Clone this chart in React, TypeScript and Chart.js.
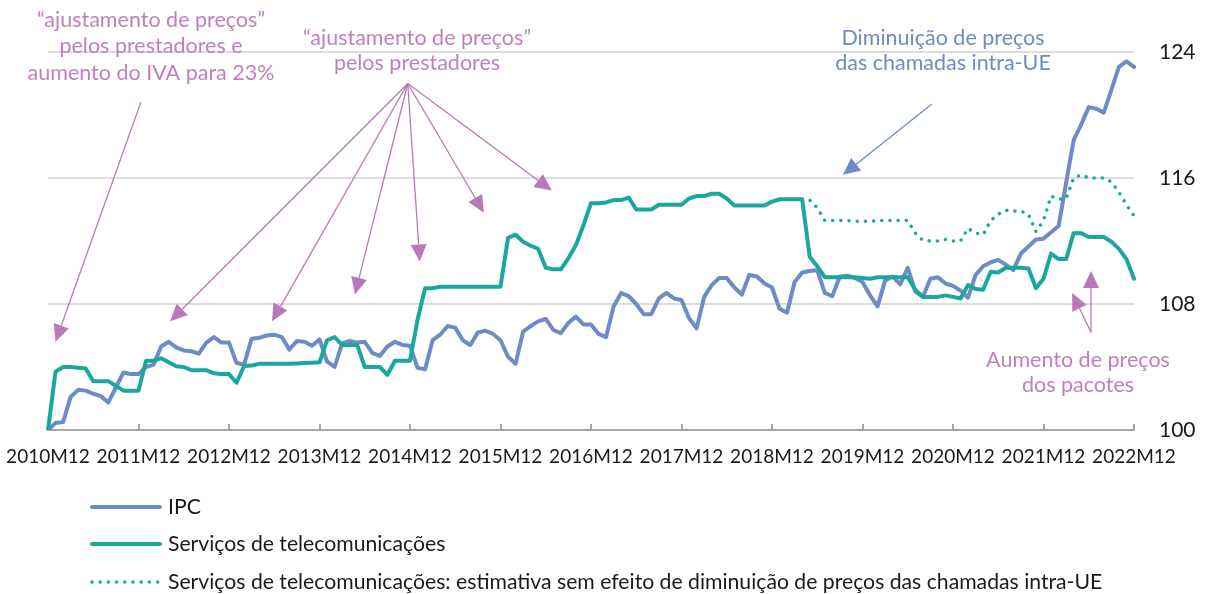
import React, { useEffect, useRef } from 'react';
import { Chart, registerables } from 'chart.js';

Chart.register(...registerables);

// Year tick labels (every 12 months)
const yearLabels = ['2010M12', '2011M12', '2012M12', '2013M12', '2014M12', '2015M12', '2016M12', '2017M12', '2018M12', '2019M12', '2020M12', '2021M12', '2022M12'];
const monthCodes = ['M01', 'M02', 'M03', 'M04', 'M05', 'M06', 'M07', 'M08', 'M09', 'M10', 'M11', 'M12'];

// IPC index (2010M12 = 100), monthly 2010M12..2022M12
const ipc = [
  100.0, 100.45, 100.5, 102.1, 102.55, 102.5, 102.3, 102.15, 101.75, 102.7, 103.65, 103.55,
  103.55, 104.0, 104.15, 105.3, 105.6, 105.25, 105.05, 105.0, 104.85, 105.55, 105.9, 105.55,
  105.55, 104.25, 104.15, 105.8, 105.85, 106.0, 106.05, 105.9, 105.1, 105.65, 105.6, 105.35,
  105.75, 104.35, 104.0, 105.5, 105.65, 105.55, 105.6, 104.9, 104.7, 105.3, 105.6, 105.4,
  105.35, 103.95, 103.85, 105.7, 106.05, 106.6, 106.5, 105.7, 105.4, 106.2, 106.3, 106.1,
  105.7, 104.65, 104.2, 106.25, 106.6, 106.9, 107.05, 106.35, 106.15, 106.8, 107.2, 106.7,
  106.7, 106.1, 105.9, 107.85, 108.7, 108.5, 108.0, 107.35, 107.35, 108.35, 108.7, 108.35,
  108.25, 107.1, 106.45, 108.45, 109.2, 109.65, 109.65, 109.05, 108.6, 109.85, 109.75, 109.3,
  109.05, 107.7, 107.45, 109.4, 110.0, 110.1, 110.15, 108.7, 108.5, 109.75, 109.8, 109.65,
  109.4, 108.55, 107.85, 109.5, 109.75, 109.25, 110.3, 108.8, 108.45, 109.6, 109.7, 109.3,
  109.15, 108.85, 108.4, 109.85, 110.4, 110.65, 110.8, 110.5, 110.15, 111.2, 111.65, 112.1,
  112.15, 112.55, 112.95, 115.7, 118.4, 119.4, 120.5, 120.4, 120.15, 121.6, 123.05, 123.4,
  123.05
];

// Telecommunication services index
const telecom = [
  100.0, 103.7, 104.0, 104.0, 103.95, 103.9, 103.1, 103.1, 103.1, 102.8, 102.5, 102.5,
  102.5, 104.4, 104.4, 104.55, 104.3, 104.05, 104.0, 103.8, 103.8, 103.8, 103.6, 103.55,
  103.55, 103.0, 104.06, 104.1, 104.2, 104.2, 104.2, 104.2, 104.2, 104.22, 104.25, 104.27,
  104.3, 105.7, 105.9, 105.4, 105.4, 105.4, 104.0, 104.0, 104.0, 103.5, 104.4, 104.4,
  104.4, 107.0, 109.0, 109.0, 109.1, 109.1, 109.1, 109.1, 109.1, 109.1, 109.1, 109.1,
  109.1, 112.2, 112.4, 111.95, 111.7, 111.5, 110.3, 110.2, 110.2, 110.9, 111.75, 113.0,
  114.4, 114.4, 114.45, 114.6, 114.6, 114.75, 114.0, 114.0, 114.0, 114.3, 114.3, 114.3,
  114.3, 114.7, 114.85, 114.85, 115.0, 115.0, 114.7, 114.25, 114.25, 114.25, 114.25, 114.25,
  114.5, 114.65, 114.65, 114.65, 114.65, 111.0, 110.4, 109.7, 109.7, 109.7, 109.7, 109.7,
  109.65, 109.6, 109.7, 109.7, 109.7, 109.7, 109.7, 108.9, 108.45, 108.45, 108.45, 108.55,
  108.45, 108.35, 109.2, 108.95, 108.9, 110.05, 110.0, 110.3, 110.3, 110.3, 110.25, 109.0,
  109.6, 111.2, 110.85, 110.85, 112.5, 112.5, 112.25, 112.25, 112.25, 111.95, 111.5, 110.85,
  109.6
];

// Estimate without the intra-EU call price decrease (from 2019M04 onwards)
const estimateStart = 100;
const estimate = [
  114.65, 114.6, 114.1, 113.3, 113.3, 113.3, 113.3, 113.25, 113.25, 113.25, 113.3, 113.3,
  113.3, 113.3, 113.3, 112.5, 112.05, 112.0, 112.0, 112.1, 112.0, 112.0, 112.8, 112.5,
  112.4, 113.3, 113.7, 113.95, 113.9, 113.9, 113.7, 112.6, 113.3, 114.85, 114.65, 114.7,
  116.0, 116.2, 116.0, 116.0, 116.0, 115.75, 115.1, 114.3, 113.6
];

const yTicks = [100, 108, 116, 124];

const seriesNames = [
  'IPC',
  'Serviços de telecomunicações',
  'Serviços de telecomunicações: estimativa sem efeito de diminuição de preços das chamadas intra-UE'
];

const BLUE = '#6E8BC6';
const TEAL = '#1AA89C';
const PINK = '#B978B6';
const PINK_TEXT = '#C27EBF';
const FONT = 'Lato, "Open Sans", sans-serif';

const labels: string[] = [];
for (let i = 0; i < ipc.length; i++) {
  const year = 2010 + Math.floor((i + 11) / 12);
  labels.push(String(year) + monthCodes[(i + 11) % 12]);
}
const estimateSeries: (number | null)[] = labels.map((_, i) =>
  i >= estimateStart ? estimate[i - estimateStart] : null
);

// annotation arrows in data coordinates: [index, value] -> [index, value]
const pinkArrows: [number, number, number, number][] = [
  [12.3, 120.8, 1.0, 105.6],
  [47.7, 122.0, 16.2, 106.9],
  [47.7, 122.0, 29.7, 106.9],
  [47.7, 122.0, 40.7, 108.6],
  [47.7, 122.0, 49.3, 110.7],
  [47.7, 122.0, 57.8, 113.8],
  [47.7, 122.0, 66.8, 115.2],
  [138.3, 106.2, 138.3, 110.1],
  [138.3, 106.2, 135.8, 108.7],
];
const blueArrows: [number, number, number, number][] = [
  [117.2, 120.7, 105.4, 116.2],
];

function drawArrow(ctx: CanvasRenderingContext2D, x1: number, y1: number, x2: number, y2: number, color: string) {
  const ang = Math.atan2(y2 - y1, x2 - x1);
  const headLen = 17;
  const headHalf = 8;
  const bx = x2 - headLen * Math.cos(ang);
  const by = y2 - headLen * Math.sin(ang);
  ctx.save();
  ctx.strokeStyle = color;
  ctx.fillStyle = color;
  ctx.lineWidth = 1.3;
  ctx.beginPath();
  ctx.moveTo(x1, y1);
  ctx.lineTo(bx, by);
  ctx.stroke();
  ctx.beginPath();
  ctx.moveTo(x2, y2);
  ctx.lineTo(bx + headHalf * Math.sin(ang), by - headHalf * Math.cos(ang));
  ctx.lineTo(bx - headHalf * Math.sin(ang), by + headHalf * Math.cos(ang));
  ctx.closePath();
  ctx.fill();
  ctx.restore();
}

function drawLines(ctx: CanvasRenderingContext2D, lines: string[], cx: number, y0: number, step: number, color: string, size: number) {
  ctx.save();
  ctx.fillStyle = color;
  ctx.font = `${size}px ${FONT}`;
  ctx.textAlign = 'center';
  ctx.textBaseline = 'middle';
  lines.forEach((t, k) => ctx.fillText(t, cx, y0 + k * step));
  ctx.restore();
}

const decorPlugin = {
  id: 'decor',
  beforeDatasetsDraw(chart: any) {
    const { ctx, scales } = chart;
    const x = scales.x;
    const yb = scales.y.getPixelForValue(100);
    ctx.save();
    ctx.strokeStyle = '#a6a6a6';
    ctx.lineWidth = 2;
    for (let i = 0; i < labels.length; i += 12) {
      const px = Math.round(x.getPixelForValue(i));
      ctx.beginPath();
      ctx.moveTo(px, yb - 6);
      ctx.lineTo(px, yb);
      ctx.stroke();
    }
    ctx.restore();
  },
  afterDatasetsDraw(chart: any) {
    const { ctx, scales } = chart;
    const X = (v: number) => scales.x.getPixelForValue(v);
    const Y = (v: number) => scales.y.getPixelForValue(v);
    pinkArrows.forEach(a => drawArrow(ctx, X(a[0]), Y(a[1]), X(a[2]), Y(a[3]), PINK));
    blueArrows.forEach(a => drawArrow(ctx, X(a[0]), Y(a[1]), X(a[2]), Y(a[3]), BLUE));

    const fs = 21.5;
    drawLines(ctx, ['“ajustamento de preços”', 'pelos prestadores e', 'aumento do IVA para 23%'], 151, 20, 26.5, PINK_TEXT, fs);
    drawLines(ctx, ['“ajustamento de preços”', 'pelos prestadores'], 417, 38, 25.5, PINK_TEXT, fs);
    drawLines(ctx, ['Diminuição de preços', 'das chamadas intra-UE'], 943, 38, 25.5, BLUE, fs);
    drawLines(ctx, ['Aumento de preços', 'dos pacotes'], 1078, 360, 25, PINK_TEXT, fs);

    // legend
    const legendY = [507, 544, 582];
    ctx.save();
    ctx.font = `21.2px ${FONT}`;
    ctx.textBaseline = 'middle';
    ctx.textAlign = 'left';
    chart.data.datasets.forEach((ds: any, k: number) => {
      const y = legendY[k];
      ctx.save();
      ctx.strokeStyle = ds.borderColor;
      ctx.lineWidth = ds.borderWidth;
      ctx.lineCap = ds.borderCapStyle || 'butt';
      ctx.setLineDash(ds.borderDash || []);
      ctx.beginPath();
      ctx.moveTo(92, y);
      ctx.lineTo(160, y);
      ctx.stroke();
      ctx.restore();
      ctx.fillStyle = '#1a1a1a';
      ctx.fillText(ds.label, 168, y);
    });
    ctx.restore();
  }
};

export default function App() {
  const ref = useRef<HTMLCanvasElement | null>(null);
  useEffect(() => {
    if (!ref.current) return;
    const chart = new Chart(ref.current, {
      type: 'line',
      data: {
        labels,
        datasets: [
          {
            label: seriesNames[0],
            data: ipc,
            borderColor: BLUE,
            backgroundColor: BLUE,
            borderWidth: 4,
            pointRadius: 0,
            tension: 0,
            borderJoinStyle: 'round',
            borderCapStyle: 'round',
            order: 3,
          },
          {
            label: seriesNames[1],
            data: telecom,
            borderColor: TEAL,
            backgroundColor: TEAL,
            borderWidth: 4,
            pointRadius: 0,
            tension: 0,
            borderJoinStyle: 'round',
            borderCapStyle: 'round',
            order: 2,
          },
          {
            label: seriesNames[2],
            data: estimateSeries,
            borderColor: TEAL,
            backgroundColor: TEAL,
            borderWidth: 3.6,
            borderDash: [0, 8.2],
            borderCapStyle: 'round',
            pointRadius: 0,
            tension: 0,
            spanGaps: false,
            order: 1,
          },
        ],
      },
      options: {
        animation: false,
        responsive: false,
        maintainAspectRatio: false,
        layout: { padding: { left: 48, top: 52, right: 0, bottom: 114 } },
        plugins: { legend: { display: false }, tooltip: { enabled: false } },
        scales: {
          x: {
            type: 'category',
            grid: { display: false, drawTicks: false },
            border: { display: true, color: '#a6a6a6', width: 2 },
            ticks: {
              autoSkip: false,
              maxRotation: 0,
              minRotation: 0,
              padding: 15,
              color: '#1a1a1a',
              font: { family: FONT, size: 19 },
              callback: (_v: any, i: number) => (i % 12 === 0 ? yearLabels[i / 12] : ''),
            },
            afterFit: (s: any) => { s.height = 50; s.paddingLeft = 0; s.paddingRight = 0; },
          },
          y: {
            position: 'right',
            min: yTicks[0],
            max: yTicks[yTicks.length - 1],
            afterBuildTicks: (s: any) => { s.ticks = yTicks.map(v => ({ value: v })); },
            grid: {
              drawTicks: false,
              lineWidth: 2,
              color: (c: any) => (c.tick && c.tick.value === 100 ? 'rgba(0,0,0,0)' : '#dcdcdc'),
            },
            border: { display: false },
            ticks: { padding: 25, color: '#1a1a1a', font: { family: FONT, size: 21 } },
            afterFit: (s: any) => { s.width = 74; s.paddingTop = 0; s.paddingBottom = 0; },
          },
        },
      },
      plugins: [decorPlugin],
    } as any);
    return () => chart.destroy();
  }, []);
  return (
    <div style={{ position: 'fixed', left: 0, top: 0, width: 1208, height: 594 }}>
      <canvas ref={ref} width={1208} height={594} style={{ width: 1208, height: 594 }} />
    </div>
  );
}
